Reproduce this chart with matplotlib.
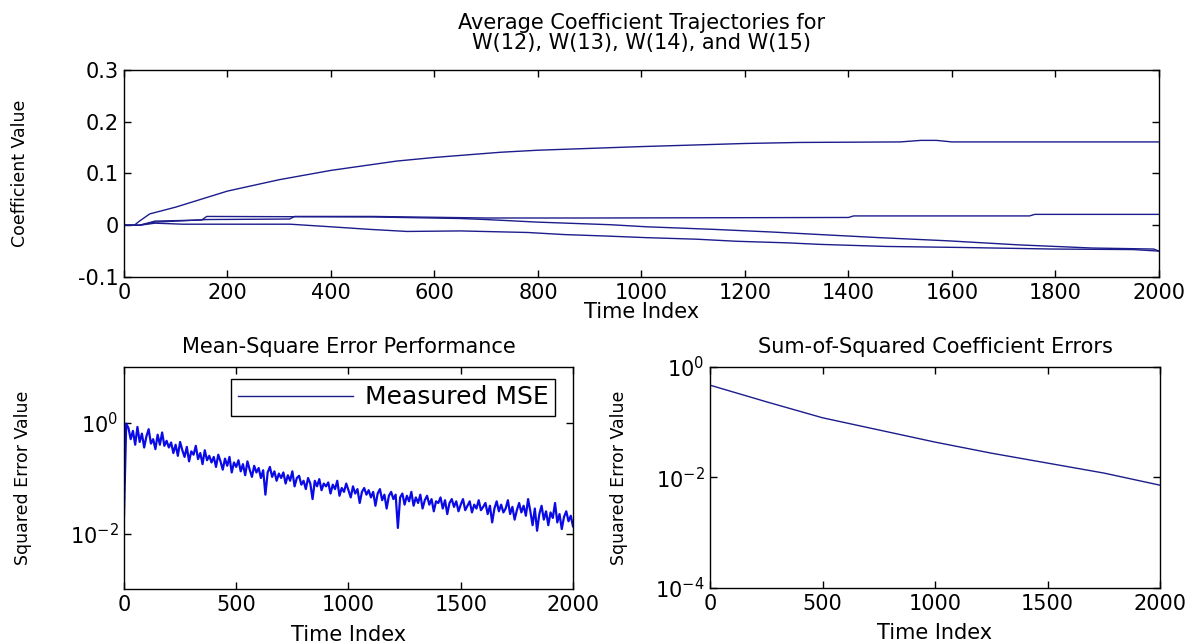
import numpy as np
import matplotlib
matplotlib.use("Agg")
import matplotlib.pyplot as plt

# Average coefficient trajectories
w12_t = [0, 20, 30, 50, 100, 200, 300, 400, 527, 600, 727, 800, 1000, 1200, 1306, 1500, 1540, 1570, 1600, 2000]
w12 = [0, 0, 0.008, 0.022, 0.035, 0.066, 0.088, 0.106, 0.124, 0.131, 0.141, 0.145, 0.152, 0.158, 0.160, 0.161, 0.164, 0.164, 0.161, 0.161]

w13_t = [0, 30, 60, 100, 160, 320, 330, 480, 700, 900, 1400, 1410, 1750, 1760, 2000]
w13 = [0, 0, 0.006, 0.008, 0.011, 0.012, 0.017, 0.017, 0.014, 0.014, 0.015, 0.018, 0.018, 0.021, 0.021]

w14_t = [0, 30, 60, 150, 160, 480, 650, 700, 800, 940, 1010, 1140, 1250, 1345, 1460, 1590, 1730, 1870, 1990, 2000]
w14 = [0, 0, 0.008, 0.010, 0.017, 0.016, 0.013, 0.011, 0.006, 0.001, -0.003, -0.008, -0.013, -0.018, -0.024, -0.030, -0.038, -0.044, -0.046, -0.050]

w15_t = [0, 30, 60, 114, 321, 400, 475, 547, 650, 780, 850, 935, 1010, 1107, 1184, 1281, 1345, 1474, 1621, 1795, 1950, 2000]
w15 = [0, 0, 0.004, 0.002, 0.002, -0.003, -0.008, -0.012, -0.011, -0.014, -0.018, -0.021, -0.024, -0.027, -0.031, -0.034, -0.037, -0.041, -0.043, -0.046, -0.047, -0.050]

# Measured MSE, log10 values every 10 time steps
mse_t = np.arange(0, 2001, 10)
mse_log = [
    -1.70, -0.02, -0.10, -0.30, -0.15, -0.40, -0.08, -0.35, -0.20, -0.45,
    -0.25, -0.12, -0.38, -0.30, -0.48, -0.22, -0.40, -0.18, -0.42, -0.33,
    -0.45, -0.36, -0.55, -0.40, -0.60, -0.35, -0.50, -0.62, -0.44, -0.70,
    -0.52, -0.58, -0.42, -0.66, -0.55, -0.75, -0.50, -0.68, -0.60, -0.72,
    -0.62, -0.80, -0.58, -0.70, -0.85, -0.65, -0.78, -0.62, -0.90, -0.72,
    -0.80, -0.68, -0.88, -0.75, -0.95, -0.70, -0.85, -0.98, -0.78, -0.90,
    -0.82, -1.00, -0.86, -1.30, -0.90, -0.80, -0.98, -0.88, -1.05, -0.92,
    -1.00, -0.90, -1.10, -0.95, -1.05, -0.88, -1.15, -1.00, -0.96, -1.12,
    -1.05, -1.20, -1.00, -1.10, -1.38, -1.05, -1.15, -1.02, -1.22, -1.10,
    -1.15, -1.08, -1.28, -1.12, -1.20, -1.05, -1.32, -1.18, -1.25, -1.10,
    -1.22, -1.35, -1.15, -1.28, -1.20, -1.45, -1.25, -1.18, -1.30, -1.22,
    -1.35, -1.25, -1.50, -1.28, -1.20, -1.40, -1.30, -1.55, -1.32, -1.25,
    -1.38, -1.30, -1.90, -1.35, -1.28, -1.48, -1.32, -1.42, -1.25, -1.50,
    -1.35, -1.45, -1.30, -1.55, -1.40, -1.32, -1.48, -1.38, -1.60, -1.42,
    -1.45, -1.35, -1.55, -1.40, -1.65, -1.45, -1.38, -1.52, -1.42, -1.60,
    -1.48, -1.38, -1.58, -1.50, -1.42, -1.62, -1.48, -1.55, -1.40, -1.58,
    -1.52, -1.45, -1.65, -1.50, -1.80, -1.55, -1.42, -1.60, -1.48, -1.62,
    -1.55, -1.40, -1.65, -1.52, -1.75, -1.58, -1.45, -1.62, -1.50, -1.68,
    -1.38, -1.60, -1.85, -1.55, -1.95, -1.65, -1.50, -1.75, -1.60, -1.85,
    -1.62, -1.72, -1.45, -1.80, -1.65, -1.92, -1.70, -1.60, -1.78, -1.68,
    -1.87,
]

# Sum-of-squared coefficient errors, log10 values
sse_t = [0, 250, 500, 750, 1000, 1250, 1500, 1750, 2000]
sse_log = [-0.33, -0.63, -0.92, -1.14, -1.36, -1.56, -1.74, -1.92, -2.14]

line_col = '#1c1c8c'
plt.rcParams['font.family'] = ['DejaVu Sans']
plt.rcParams['font.size'] = 15
plt.rcParams['axes.linewidth'] = 1.0


def matlab_axes(ax):
    # ticks inside on all four sides, like a MATLAB box
    ax.tick_params(direction='in', top=True, right=True, length=5, width=1.0,
                   labelsize=15, pad=4)
    ax.tick_params(which='minor', length=0)


fig = plt.figure(figsize=(12, 6.44), dpi=100)

# Top: coefficient trajectories
ax1 = fig.add_axes([0.1033, 0.5699, 0.8625, 0.3214])
for t, w in [(w12_t, w12), (w13_t, w13), (w14_t, w14), (w15_t, w15)]:
    ax1.plot(t, w, color=line_col, lw=1.0)
ax1.set_xlim(0, 2000)
ax1.set_ylim(-0.1, 0.3)
ax1.set_xticks(np.arange(0, 2001, 200))
ax1.set_yticks([-0.1, 0, 0.1, 0.2, 0.3])
ax1.set_yticklabels(['-0.1', '0', '0.1', '0.2', '0.3'])
matlab_axes(ax1)
ax1.set_title("Average Coefficient Trajectories for\nW(12), W(13), W(14), and W(15)",
              fontsize=15, pad=15, linespacing=1.0)
ax1.set_xlabel("Time Index", fontsize=15)
ax1.xaxis.set_label_coords(0.5, -0.122)
ax1.set_ylabel("Coefficient Value", fontsize=12.5)
ax1.yaxis.set_label_coords(-0.092, 0.5)

# Bottom left: MSE
ax2 = fig.add_axes([0.1033, 0.0854, 0.3742, 0.3447])
ax2.semilogy(mse_t, np.power(10.0, mse_log), color='#0a0ae6', lw=1.6, label='Measured MSE')
ax2.set_xlim(0, 2000)
ax2.set_ylim(1e-3, 1e1)
ax2.set_xticks([0, 500, 1000, 1500, 2000])
ax2.set_yticks([1e-2, 1e0])
matlab_axes(ax2)
ax2.set_title("Mean-Square Error Performance", fontsize=15, pad=10)
ax2.set_xlabel("Time Index", fontsize=15)
ax2.xaxis.set_label_coords(0.5, -0.16)
ax2.set_ylabel("Squared Error Value", fontsize=12.5)
ax2.yaxis.set_label_coords(-0.205, 0.5)
leg = ax2.legend(loc='upper right', fontsize=18, handlelength=4.6, fancybox=False,
                 edgecolor='black', framealpha=1, borderpad=0.25, borderaxespad=0,
                 handletextpad=0.5, bbox_to_anchor=(0.96, 0.946))
leg.get_frame().set_linewidth(1.0)
leg.get_lines()[0].set_color(line_col)
leg.get_lines()[0].set_linewidth(1.0)

# Bottom right: sum-of-squared coefficient errors
ax3 = fig.add_axes([0.5917, 0.0870, 0.375, 0.3432])
ax3.semilogy(sse_t, np.power(10.0, sse_log), color=line_col, lw=1.0)
ax3.set_xlim(0, 2000)
ax3.set_ylim(1e-4, 1e0)
ax3.set_xticks([0, 500, 1000, 1500, 2000])
ax3.set_yticks([1e-4, 1e-2, 1e0])
matlab_axes(ax3)
ax3.set_title("Sum-of-Squared Coefficient Errors", fontsize=15, pad=10)
ax3.set_xlabel("Time Index", fontsize=15)
ax3.xaxis.set_label_coords(0.5, -0.16)
ax3.set_ylabel("Squared Error Value", fontsize=12.5)
ax3.yaxis.set_label_coords(-0.182, 0.5)

plt.savefig("out.png", dpi=100)
